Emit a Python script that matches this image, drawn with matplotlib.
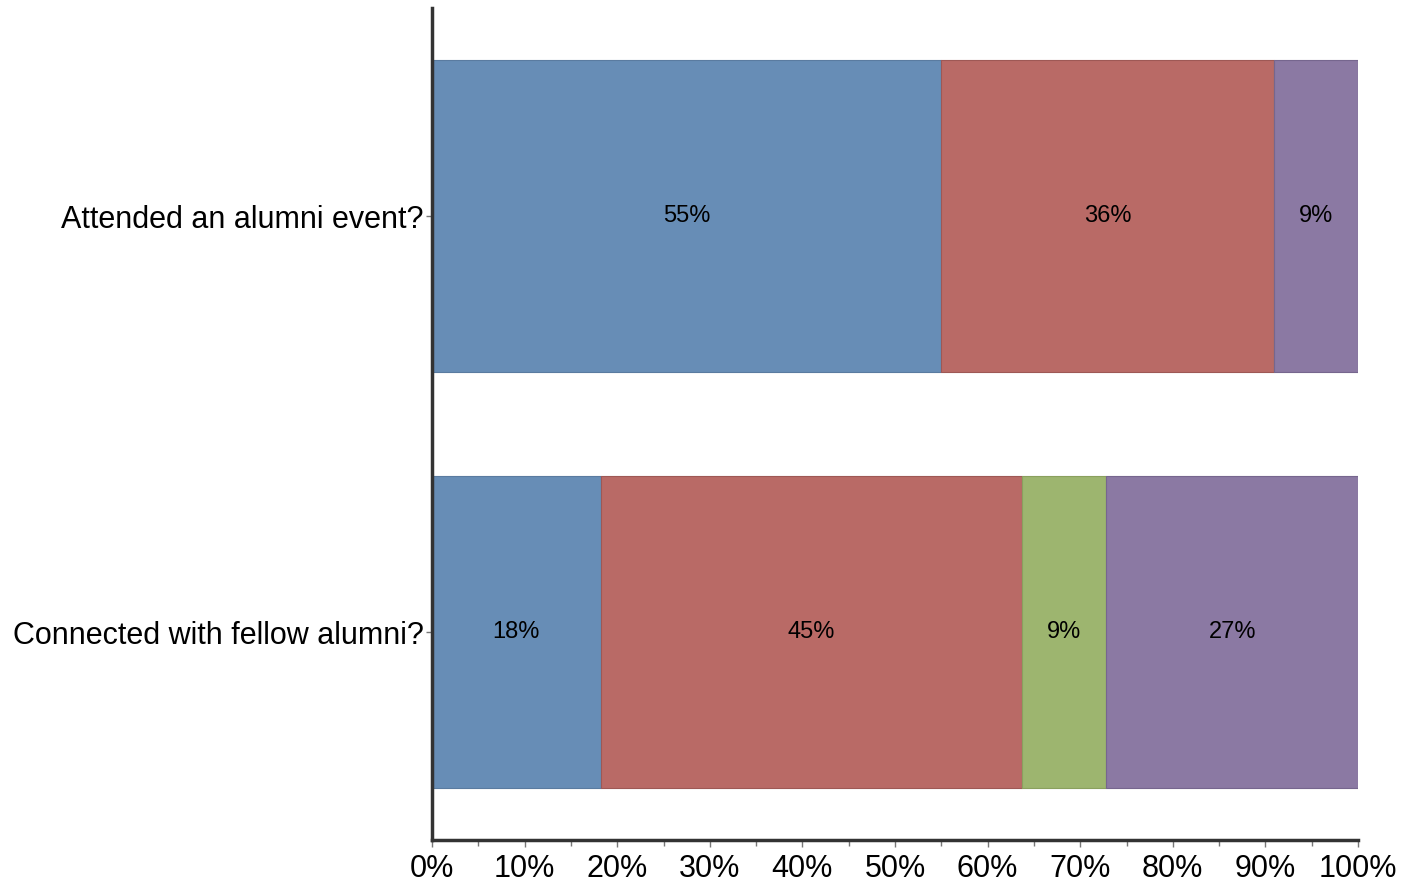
import matplotlib
matplotlib.use("Agg")
import matplotlib.pyplot as plt
from matplotlib.ticker import MultipleLocator, PercentFormatter

plt.rcParams['font.family'] = ['Liberation Sans', 'DejaVu Sans']

# survey answers, share of respondents
questions = ["Attended an alumni event?", "Connected with fellow alumni?"]
blue = [55.0, 18.2]
red = [35.9, 45.5]
green = [0.0, 9.1]
purple = [9.1, 27.3]
labels_blue = ["55%", "18%"]
labels_red = ["36%", "45%"]
labels_green = ["", "9%"]
labels_purple = ["9%", "27%"]

series = [
    (blue, labels_blue, "#678db6", "#5a7ba0"),
    (red, labels_red, "#b96a66", "#9e5855"),
    (green, labels_green, "#9db56f", "#8aa05e"),
    (purple, labels_purple, "#8b79a3", "#76668e"),
]

fig = plt.figure(figsize=(14.05, 8.88), dpi=100)
ax = fig.add_axes([432 / 1405, 48 / 888, 926 / 1405, 832 / 888])

y = list(range(len(questions)))
left = [0.0] * len(questions)
for vals, labs, col, edge in series:
    bars = ax.barh(y, vals, left=left, height=0.75, color=col, edgecolor=edge, linewidth=0.8)
    for b, lab in zip(bars, labs):
        if lab:
            ax.text(b.get_x() + b.get_width() / 2, b.get_y() + b.get_height() / 2, lab,
                    ha="center", va="center", fontsize=17, color="black")
    left = [l + v for l, v in zip(left, vals)]

ax.set_xlim(0, 100)
ax.set_ylim(1.5, -0.5)
ax.set_yticks(y)
ax.set_yticklabels(questions, fontsize=22)
ax.xaxis.set_major_locator(MultipleLocator(10))
ax.xaxis.set_minor_locator(MultipleLocator(5))
ax.xaxis.set_major_formatter(PercentFormatter(decimals=0))
ax.tick_params(axis="x", which="major", labelsize=22, length=5, width=1, color="#777777", pad=5)
ax.tick_params(axis="x", which="minor", length=4, width=1, color="#777777")
ax.tick_params(axis="y", length=4, width=1, color="#777777", pad=2)

for s in ["top", "right"]:
    ax.spines[s].set_visible(False)
for s in ["left", "bottom"]:
    ax.spines[s].set_color("#333333")
    ax.spines[s].set_linewidth(2.5)

fig.savefig("out.png", dpi=100, facecolor="white")
